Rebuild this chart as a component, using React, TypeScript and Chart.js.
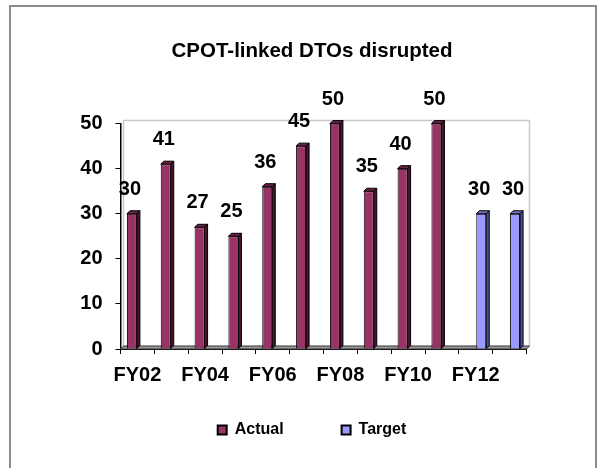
import React, { useEffect, useRef } from 'react';
import { Chart, registerables } from 'chart.js';

Chart.register(...registerables);

// ---- data ----
const categories = ['FY02', 'FY03', 'FY04', 'FY05', 'FY06', 'FY07', 'FY08', 'FY09', 'FY10', 'FY11', 'FY12', 'FY13'];
const actualValues: (number | null)[] = [30, 41, 27, 25, 36, 45, 50, 35, 40, 50, null, null];
const targetValues: (number | null)[] = [null, null, null, null, null, null, null, null, null, null, 30, 30];
const yMin = 0;
const yMax = 50;
const yStep = 10;
const titleText = 'CPOT-linked DTOs disrupted';
const seriesNames = ['Actual', 'Target'];

// ---- styles ----
const FONT = '"Liberation Sans", Arial, Helvetica, sans-serif';
const DEPTH = 3;
const LEGEND_SHIFT = 20;
const frontColors = ['#993366', '#9999ff'];
const sideColors = ['#4a1430', '#4d4d99'];
const topColors = ['#6a1f45', '#7070c0'];

const wallsPlugin = {
  id: 'walls3d',
  afterLayout(chart: any) {
    const lg = chart.legend;
    if (lg) {
      lg.top -= LEGEND_SHIFT;
      lg.bottom -= LEGEND_SHIFT;
    }
  },
  beforeDatasetsDraw(chart: any) {
    const { ctx, chartArea } = chart;
    const { left, right, top, bottom } = chartArea;
    const d = DEPTH;
    ctx.save();
    ctx.strokeStyle = '#c8c8c8';
    ctx.lineWidth = 1.5;
    ctx.beginPath();
    ctx.moveTo(left + d, bottom - d);
    ctx.lineTo(left + d, top - d);
    ctx.lineTo(right + d, top - d);
    ctx.lineTo(right + d, bottom - d);
    ctx.stroke();
    ctx.beginPath();
    ctx.moveTo(left, bottom);
    ctx.lineTo(right, bottom);
    ctx.lineTo(right + d, bottom - d);
    ctx.lineTo(left + d, bottom - d);
    ctx.closePath();
    ctx.fillStyle = '#9a9a9a';
    ctx.fill();
    ctx.strokeStyle = '#333';
    ctx.lineWidth = 1;
    ctx.stroke();
    ctx.restore();
  },
  afterDatasetsDraw(chart: any) {
    const { ctx } = chart;
    const d = DEPTH;
    ctx.save();
    chart.data.datasets.forEach((ds: any, i: number) => {
      const meta = chart.getDatasetMeta(i);
      if (meta.hidden) return;
      meta.data.forEach((el: any, j: number) => {
        const v = ds.data[j];
        if (v === null || v === undefined) return;
        const { x, y, base, width } = el.getProps(['x', 'y', 'base', 'width'], true);
        const l = x - width / 2;
        const r = x + width / 2;
        ctx.lineWidth = 1;
        ctx.strokeStyle = '#000';
        // top face
        ctx.beginPath();
        ctx.moveTo(l, y);
        ctx.lineTo(l + d, y - d);
        ctx.lineTo(r + d, y - d);
        ctx.lineTo(r, y);
        ctx.closePath();
        ctx.fillStyle = topColors[i];
        ctx.fill();
        ctx.stroke();
        // side face
        ctx.beginPath();
        ctx.moveTo(r, y);
        ctx.lineTo(r + d, y - d);
        ctx.lineTo(r + d, base - d);
        ctx.lineTo(r, base);
        ctx.closePath();
        ctx.fillStyle = sideColors[i];
        ctx.fill();
        ctx.stroke();
        // value label
        ctx.fillStyle = '#000';
        ctx.font = `bold 20px ${FONT}`;
        ctx.textAlign = 'center';
        ctx.textBaseline = 'alphabetic';
        ctx.fillText(String(v), x - 2, y - 19);
      });
    });
    ctx.restore();
  },
};

export default function App() {
  const canvasRef = useRef<HTMLCanvasElement | null>(null);

  useEffect(() => {
    if (!canvasRef.current) return;
    const chart = new Chart(canvasRef.current, {
      type: 'bar',
      data: {
        labels: categories,
        datasets: [
          {
            label: seriesNames[0],
            data: actualValues,
            backgroundColor: frontColors[0],
            borderColor: '#000',
            borderWidth: 1,
            categoryPercentage: 0.65,
            barPercentage: 0.91,
          },
          {
            label: seriesNames[1],
            data: targetValues,
            backgroundColor: frontColors[1],
            borderColor: '#000',
            borderWidth: 1,
            categoryPercentage: 0.65,
            barPercentage: 0.91,
          },
        ],
      },
      options: {
        responsive: false,
        animation: false,
        devicePixelRatio: 1,
        layout: { padding: { left: 20, right: 1, top: 0, bottom: 0 } },
        plugins: {
          title: {
            display: true,
            text: titleText,
            color: '#000',
            font: { family: FONT, size: 20.5, weight: 'bold' },
            padding: { top: 39, bottom: 60 },
          },
          legend: {
            position: 'bottom',
            labels: {
              color: '#000',
              font: { family: FONT, size: 16, weight: 'bold' },
              boxWidth: 9,
              boxHeight: 9,
              padding: 58,
              generateLabels: (c: any) =>
                (Chart.defaults.plugins.legend.labels as any)
                  .generateLabels(c)
                  .map((it: any) => ({ ...it, lineWidth: 2, strokeStyle: '#000' })),
            },
          },
          tooltip: { enabled: false },
        },
        scales: {
          x: {
            grid: { display: true, drawOnChartArea: false, drawTicks: true, tickLength: 5, color: '#000', offset: true },
            border: { display: true, color: '#000', width: 1 },
            ticks: {
              color: '#000',
              font: { family: FONT, size: 20, weight: 'bold' },
              padding: 9,
              autoSkip: false,
              maxRotation: 0,
              callback: (_v: any, i: number) => (i % 2 === 0 ? categories[i] : ''),
            },
            afterFit: (s: any) => {
              s.height = 35;
            },
          },
          y: {
            min: yMin,
            max: yMax,
            ticks: {
              stepSize: yStep,
              color: '#000',
              font: { family: FONT, size: 20, weight: 'bold' },
              padding: 13,
            },
            grid: { display: true, drawOnChartArea: false, tickLength: 5, color: '#000' },
            border: { display: true, color: '#000', width: 1.5 },
            afterFit: (s: any) => {
              s.width = 100.5;
            },
          },
          y2: {
            position: 'right',
            display: true,
            grid: { display: false },
            border: { display: false },
            ticks: { display: false },
            afterFit: (s: any) => {
              s.width = 77.5;
            },
          },
        },
      } as any,
      plugins: [wallsPlugin],
    });
    return () => chart.destroy();
  }, []);

  return (
    <div style={{ position: 'absolute', left: 0, top: 0, width: 605, height: 468, background: '#fff', overflow: 'hidden' }}>
      <div
        style={{
          position: 'absolute',
          left: 9,
          top: 5,
          width: 588,
          height: 480,
          boxSizing: 'border-box',
          borderTop: '2px solid #8c8c8c',
          borderLeft: '2px solid #8c8c8c',
          borderRight: '2px solid #8c8c8c',
        }}
      />
      <canvas
        ref={canvasRef}
        width={605}
        height={468}
        style={{ position: 'absolute', left: 0, top: 0, width: 605, height: 468 }}
      />
    </div>
  );
}
